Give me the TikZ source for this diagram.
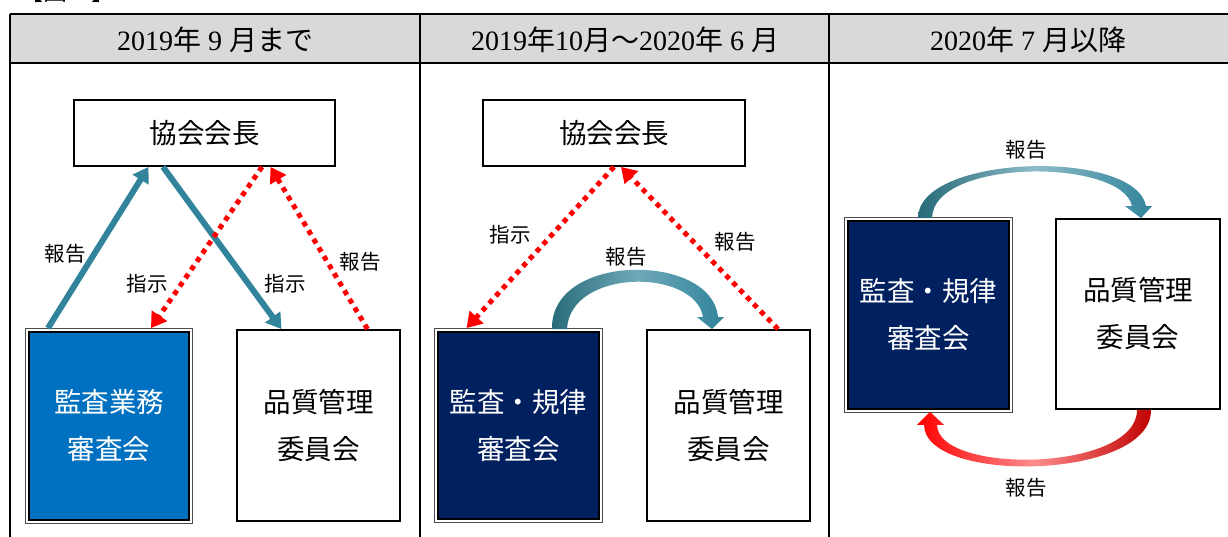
\documentclass[tikz,border=0pt]{standalone}
\usepackage{fontspec}
\setmainfont{Liberation Serif}
\newfontfamily\cjk{Noto Sans CJK JP}
\usetikzlibrary{arrows.meta}
\definecolor{teal1}{HTML}{31849B}
\definecolor{tealdark}{HTML}{276A78}
\definecolor{navy}{HTML}{002060}
\definecolor{blue1}{HTML}{0070C0}
\definecolor{hdr}{HTML}{D9D9D9}
\definecolor{red1}{HTML}{FF0000}
\definecolor{reddark}{HTML}{C00000}
\begin{document}
\begin{tikzpicture}[x=1pt,y=-1pt,
  box/.style={draw=black,line width=1.8pt,fill=white,inner sep=0pt,
    font=\cjk\fontsize{27.5}{47}\selectfont,align=center},
  darkbox/.style={box,text=white},
  frame/.style={draw=black!70,line width=0.8pt},
  lbl/.style={font=\cjk\fontsize{20.5}{20.5}\selectfont,inner sep=0pt},
  hd/.style={font=\fontsize{28}{28}\selectfont,inner sep=0pt},
  tarr/.style={draw=teal1,line width=6pt,-{Triangle[width=18pt,length=15pt]}},
  rarr/.style={draw=red1,line width=5pt,dash pattern=on 5pt off 5pt,-{Triangle[width=18pt,length=15pt]}},
  tline/.style={line width=2.4pt,black}]
\useasboundingbox (0,0) rectangle (1228,537);
% caption (cut off at top)
\node[font=\cjk\fontsize{24}{24}\selectfont,inner sep=0pt] (cap) at (67,-9) {【図１】};
% table header
\fill[hdr] (10,14) rectangle (1228,63);
\draw[tline] (10,14) -- (1228,14);
\draw[tline] (10,63) -- (1228,63);
\draw[tline] (10,14) -- (10,540);
\draw[tline] (420,14) -- (420,540);
\draw[tline] (829,14) -- (829,540);
\node[hd] (h1) at (215,40) {2019{\cjk 年}\hspace{.25em}9\hspace{.25em}{\cjk 月まで}};
\node[hd] (h2) at (625,40) {2019{\cjk 年}10{\cjk 月～}2020{\cjk 年}\hspace{.25em}6\hspace{.25em}{\cjk 月}};
\node[hd] (h3) at (1028,40) {2020{\cjk 年}\hspace{.25em}7\hspace{.25em}{\cjk 月以降}};

% ---------- column 1 ----------
\node[box,minimum width=261pt,minimum height=66pt] (pres1) at (204.5,133) {協会会長};
\node[darkbox,fill=blue1,minimum width=160pt,minimum height=188pt] (aud1) at (109,426) {監査業務\\審査会};
\draw[frame] ([shift={(-2.5,-2.5)}]aud1.north west) rectangle ([shift={(2.5,2.5)}]aud1.south east);
\node[box,minimum width=163pt,minimum height=191pt] (qc1) at (318.5,425.5) {品質管理\\委員会};

\draw[tarr] ([shift={(-61,-3)}]aud1.north) -- ([xshift=-56]pres1.south);
\draw[tarr] ([xshift=-41.5]pres1.south) -- ([xshift=-37]qc1.north);
\draw[rarr] ([xshift=57.5]pres1.south) -- ([shift={(42,-3)}]aud1.north);
\draw[rarr] ([xshift=49]qc1.north) -- ([xshift=66]pres1.south);

\node[lbl] (l1) at (65,254) {報告};
\node[lbl] (l2) at (147,284) {指示};
\node[lbl] (l3) at (285,284) {指示};
\node[lbl] (l4) at (360,262) {報告};

% ---------- column 2 ----------
\node[box,minimum width=262pt,minimum height=66pt] (pres2) at (614,133) {協会会長};
\node[darkbox,fill=navy,minimum width=161pt,minimum height=187pt] (aud2) at (518.5,425.5) {監査・規律\\審査会};
\draw[frame] ([shift={(-2.5,-2.5)}]aud2.north west) rectangle ([shift={(2.5,2.5)}]aud2.south east);
\node[box,minimum width=163pt,minimum height=191pt] (qc2) at (728.5,425.5) {品質管理\\委員会};

\draw[rarr] ([xshift=0]pres2.south) -- ([shift={(-52,-3)}]aud2.north);
\draw[rarr] ([xshift=49.5]qc2.north) -- ([xshift=7]pres2.south);

\shade[left color=tealdark,right color=teal1,middle color=teal1!70!white]
  ([shift={(33.5,-2)}]aud2.north) .. controls +(-2,-77) and +(-6,-65) .. ([shift={(-10.5,-12)}]qc2.north)
  -- ++(6,0) -- ++(-12,12) -- ++(-15,-12) -- ++(6,0)
  .. controls +(-8,-49) and +(3,-61) .. ([shift={(48.5,-2)}]aud2.north) -- cycle;

\node[lbl] (l5) at (510,235) {指示};
\node[lbl] (l6) at (626,257) {報告};
\node[lbl] (l7) at (735,242) {報告};

% ---------- column 3 ----------
\node[darkbox,fill=navy,minimum width=161pt,minimum height=188pt] (aud3) at (928.5,315) {監査・規律\\審査会};
\draw[frame] ([shift={(-2.5,-2.5)}]aud3.north west) rectangle ([shift={(2.5,2.5)}]aud3.south east);
\node[box,minimum width=164pt,minimum height=190pt] (qc3) at (1138,314) {品質管理\\委員会};

\shade[left color=tealdark,right color=teal1,middle color=teal1!55!white]
  ([shift={(-10.5,-2)}]aud3.north) .. controls +(0,-64) and +(-11,-58) .. ([shift={(8,-12)}]qc3.north)
  -- ++(6,0) -- ++(-11,12) -- ++(-16,-12) -- ++(7,0)
  .. controls +(-10,-48) and +(1,-60) .. ([shift={(3.5,-2)}]aud3.north) -- cycle;

\shade[left color=red1,right color=reddark,middle color=red1!45!white]
  ([xshift=13]qc3.south) .. controls +(1,70) and +(1,60) .. ([shift={(-4.5,15)}]aud3.south)
  -- ++(-7,0) -- ++(13,-13) -- ++(14,13) -- ++(-7,0)
  .. controls +(1,50) and +(0,62) .. ([xshift=-1]qc3.south) -- cycle;

\node[lbl] (l8) at (1026,150) {報告};
\node[lbl] (l9) at (1026,488) {報告};
\end{tikzpicture}
\end{document}
